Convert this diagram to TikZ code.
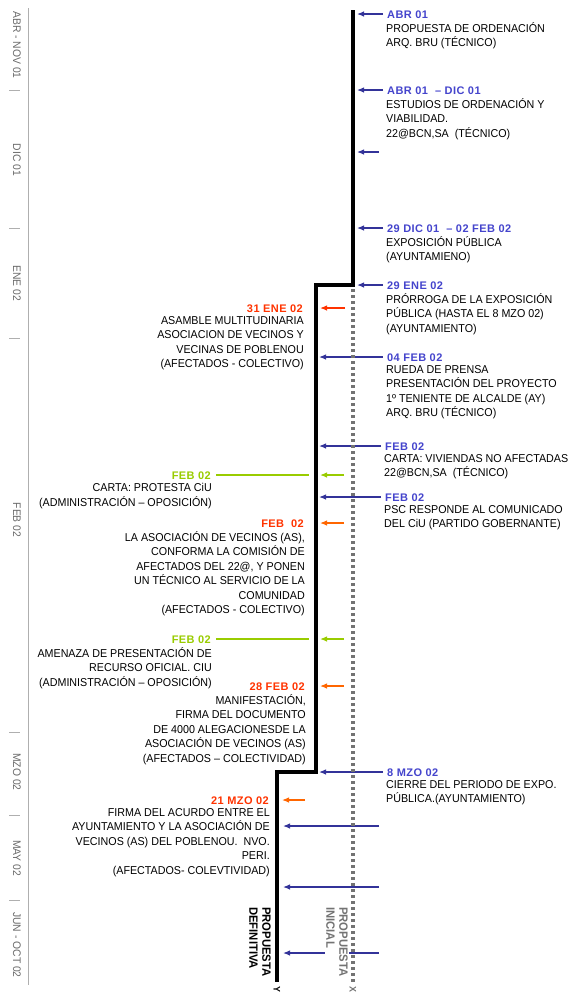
\documentclass[tikz,border=0pt]{standalone}
\usepackage{fontspec}
\setmainfont{Liberation Sans}[FakeStretch=0.94]
\newfontfamily\datefont{Liberation Sans}[LetterSpace=4]
\usetikzlibrary{arrows.meta,positioning}
\definecolor{evblue}{RGB}{51,51,153}
\definecolor{dateblue}{RGB}{68,68,204}
\definecolor{evred}{RGB}{255,51,0}
\definecolor{evorange}{RGB}{255,102,0}
\definecolor{evgreen}{RGB}{153,204,0}
\definecolor{axisgray}{RGB}{175,175,175}
\definecolor{labelgray}{RGB}{105,105,105}
\definecolor{dotgray}{RGB}{115,115,115}

\begin{document}
\begin{tikzpicture}[x=1pt,y=-1pt,>={Latex[length=7pt,width=5.5pt]},
    evtxt/.style={inner sep=0pt,font=\fontsize{11.4}{14.4}\selectfont,
        execute at begin node=\strut},
    rtxt/.style={evtxt,anchor=north west,align=left},
    ltxt/.style={evtxt,anchor=north east,align=right},
    evdate/.style={inner sep=1pt,text height=8pt,text depth=0pt,
        font=\datefont\fontsize{11}{13}\selectfont\bfseries},
    bdate/.style={evdate,text=dateblue,anchor=base west},
    rdate/.style={evdate,text=evred,anchor=base east},
    gdate/.style={evdate,text=evgreen,anchor=base east},
    barrow/.style={->,evblue,line width=1.2pt,shorten <=3pt},
    rarrow/.style={->,evred,line width=1.2pt},
    oarrow/.style={->,evorange,line width=1.2pt},
    garrow/.style={->,evgreen,line width=1.2pt},
    gline/.style={evgreen,line width=1.2pt,shorten <=4pt,shorten >=7pt},
    axislab/.style={rotate=-90,text=labelgray,inner sep=0pt,
        font=\fontsize{11}{12}\selectfont},
    endlab/.style={rotate=-90,anchor=north west,align=left,inner sep=1pt,
        font=\fontsize{12}{13}\selectfont\bfseries}]
    \useasboundingbox (0,0) rectangle (576,994);

    % time axis
    \draw[axisgray,line width=1pt] (28,8) -- (28,985);
    \foreach \t in {90,228,338,732,815,900}
        \draw[axisgray,line width=1pt] (9,\t) -- (20,\t);
    \foreach \nm/\yy/\lab in {mabr/45/ABR - NOV 01,mdic/160/DIC 01,
            mene/283/ENE 02,mfeb/520/FEB 02,mmzo/772/MZO 02,
            mmay/858/MAY 02,mjun/945/JUN - OCT 02}
        \node[axislab] (\nm) at (17,\yy) {\lab};

    % proposal lines
    \coordinate (def0) at (353,10);
    \coordinate (def1) at (353,285);
    \coordinate (def2) at (316,285);
    \coordinate (def3) at (316,772);
    \coordinate (def4) at (277,772);
    \coordinate (def5) at (277,982);
    \coordinate (ini0) at (353,289);
    \coordinate (ini1) at (353,982);

    % right hand events
    \node[bdate] (d1) at (386,18) {ABR 01};
    \node[rtxt] (t1) at ([yshift=-4.4pt]d1.base west)
        {PROPUESTA DE ORDENACIÓN\\ARQ. BRU (TÉCNICO)};
    \node[bdate] (d2) at (386,94) {ABR 01\ \ – DIC 01};
    \node[rtxt] (t2) at ([yshift=-4.4pt]d2.base west)
        {ESTUDIOS DE ORDENACIÓN Y\\VIABILIDAD.\\22@BCN,SA\ \ (TÉCNICO)};
    \coordinate (e3) at (382,152);
    \node[bdate] (d4) at (386,232) {29\ DIC 01\ \ – 02\ FEB 02};
    \node[rtxt] (t4) at ([yshift=-4.4pt]d4.base west)
        {EXPOSICIÓN PÚBLICA\\(AYUNTAMIENO)};
    \node[bdate] (d5) at (386,289) {29\ ENE 02};
    \node[rtxt] (t5) at ([yshift=-4.4pt]d5.base west)
        {PRÓRROGA DE LA EXPOSICIÓN\\PÚBLICA (HASTA EL 8 MZO 02)\\(AYUNTAMIENTO)};
    \node[bdate] (d6) at (386,361) {04\ FEB 02};
    \node[rtxt] (t6) at ([yshift=-4.4pt]d6.base west)
        {RUEDA DE PRENSA\\PRESENTACIÓN DEL PROYECTO\\1º TENIENTE DE ALCALDE (AY)\\ARQ. BRU (TÉCNICO)};
    \node[bdate] (d7) at (384,450) {FEB 02};
    \node[rtxt] (t7) at ([yshift=-4.4pt]d7.base west)
        {CARTA: VIVIENDAS NO AFECTADAS\\22@BCN,SA\ \ (TÉCNICO)};
    \node[bdate] (d8) at (384,501) {FEB 02};
    \node[rtxt] (t8) at ([yshift=-4.4pt]d8.base west)
        {PSC RESPONDE AL COMUNICADO\\DEL CiU (PARTIDO GOBERNANTE)};
    \node[bdate] (d9) at (386,776) {8\ MZO 02};
    \node[rtxt] (t9) at ([yshift=-4.4pt]d9.base west)
        {CIERRE DEL PERIODO DE EXPO.\\PÚBLICA.(AYUNTAMIENTO)};
    \coordinate (e10) at (382,826);
    \coordinate (e11) at (382,887);
    \coordinate (e12) at (382,953);

    % left hand events
    \node[rdate] (l1) at (304,312) {31\ ENE 02};
    \node[ltxt] (s1) at ([yshift=-4.4pt]l1.base east)
        {ASAMBLE MULTITUDINARIA\\ASOCIACION DE VECINOS Y\\VECINAS DE POBLENOU\\(AFECTADOS - COLECTIVO)};
    \node[gdate] (l2) at (212,479) {FEB 02};
    \node[ltxt] (s2) at ([yshift=-4.4pt]l2.base east)
        {CARTA: PROTESTA CiU\\(ADMINISTRACIÓN – OPOSICIÓN)};
    \node[rdate] (l3) at (305,527) {FEB\ \ 02};
    \node[ltxt] (s3) at ([yshift=-4.4pt]l3.base east)
        {LA ASOCIACIÓN DE VECINOS (AS),\\CONFORMA LA COMISIÓN DE\\AFECTADOS DEL 22@, Y PONEN\\UN TÉCNICO AL SERVICIO DE LA\\COMUNIDAD\\(AFECTADOS - COLECTIVO)};
    \node[gdate] (l4) at (212,643) {FEB 02};
    \node[ltxt] (s4) at ([yshift=-4.4pt]l4.base east)
        {AMENAZA DE PRESENTACIÓN DE\\RECURSO OFICIAL. CIU\\(ADMINISTRACIÓN – OPOSICIÓN)};
    \node[rdate] (l5) at (306,690) {28 FEB 02};
    \node[ltxt] (s5) at ([yshift=-4.4pt]l5.base east)
        {MANIFESTACIÓN,\\FIRMA DEL DOCUMENTO\\DE 4000 ALEGACIONESDE LA\\ASOCIACIÓN DE VECINOS (AS)\\(AFECTADOS – COLECTIVIDAD)};
    \node[rdate] (l6) at (270,804) {21 MZO 02};
    \node[ltxt] (s6) at ([yshift=-4.4pt]l6.base east)
        {FIRMA DEL ACURDO ENTRE EL\\AYUNTAMIENTO Y LA ASOCIACIÓN DE\\VECINOS (AS) DEL POBLENOU.\ \ NVO.\\PERI.\\(AFECTADOS- COLEVTIVIDAD)};
    \coordinate (a1) at (345,308);
    \coordinate (a2) at (344,475);
    \coordinate (a3) at (344,523);
    \coordinate (a4) at (344,639);
    \coordinate (a5) at (344,686);
    \coordinate (a6) at (305,800);

    \path[barrow,shorten >=4pt]
        (d1.west) edge (d1.west -| def0)
        (d2.west) edge (d2.west -| def0)
        (e3)      edge (e3 -| def0)
        (d4.west) edge (d4.west -| def0)
        (d5.west) edge (d5.west -| def0);
    \path[barrow,shorten >=3pt]
        (d6.west) edge (d6.west -| def2)
        (d7.west) edge (d7.west -| def2)
        (d8.west) edge (d8.west -| def2)
        (d9.west) edge (d9.west -| def2);
    \path[barrow,shorten >=6pt]
        (e10) edge (e10 -| def4)
        (e11) edge (e11 -| def4)
        (e12) edge (e12 -| def4);
    \path[shorten >=4pt]
        (a1) edge[rarrow] (a1 -| def2)
        (a2) edge[garrow] (a2 -| def2)
        (a3) edge[oarrow] (a3 -| def2)
        (a4) edge[garrow] (a4 -| def2)
        (a5) edge[oarrow] (a5 -| def2);
    \path (a6) edge[oarrow,shorten >=5pt] (a6 -| def4);
    \path[gline]
        (l2.east) edge (l2.east -| def2)
        (l4.east) edge (l4.east -| def2);

    % proposal labels and lines
    \node[endlab,text=dotgray,fill=white] (inil) at (349,906) {PROPUESTA\\INICIAL};
    \node[endlab] (defl) at (272,906) {PROPUESTA\\DEFINITIVA};
    \draw[dotgray,line width=3.2pt,dash pattern=on 3pt off 3pt] (ini0) -- (ini1);
    \draw[black,line width=3.2pt,line join=miter]
        (def0) -- (def1) -- (def2) -- (def3) -- (def4) -- (def5);
    \node[rotate=-90,inner sep=0pt,font=\fontsize{9.5}{10}\selectfont\bfseries]
        (ylab) at (277,989) {Y};
    \node[rotate=-90,inner sep=0pt,text=dotgray,font=\fontsize{9.5}{10}\selectfont\bfseries]
        (xlab) at (353,989) {X};
\end{tikzpicture}
\end{document}
